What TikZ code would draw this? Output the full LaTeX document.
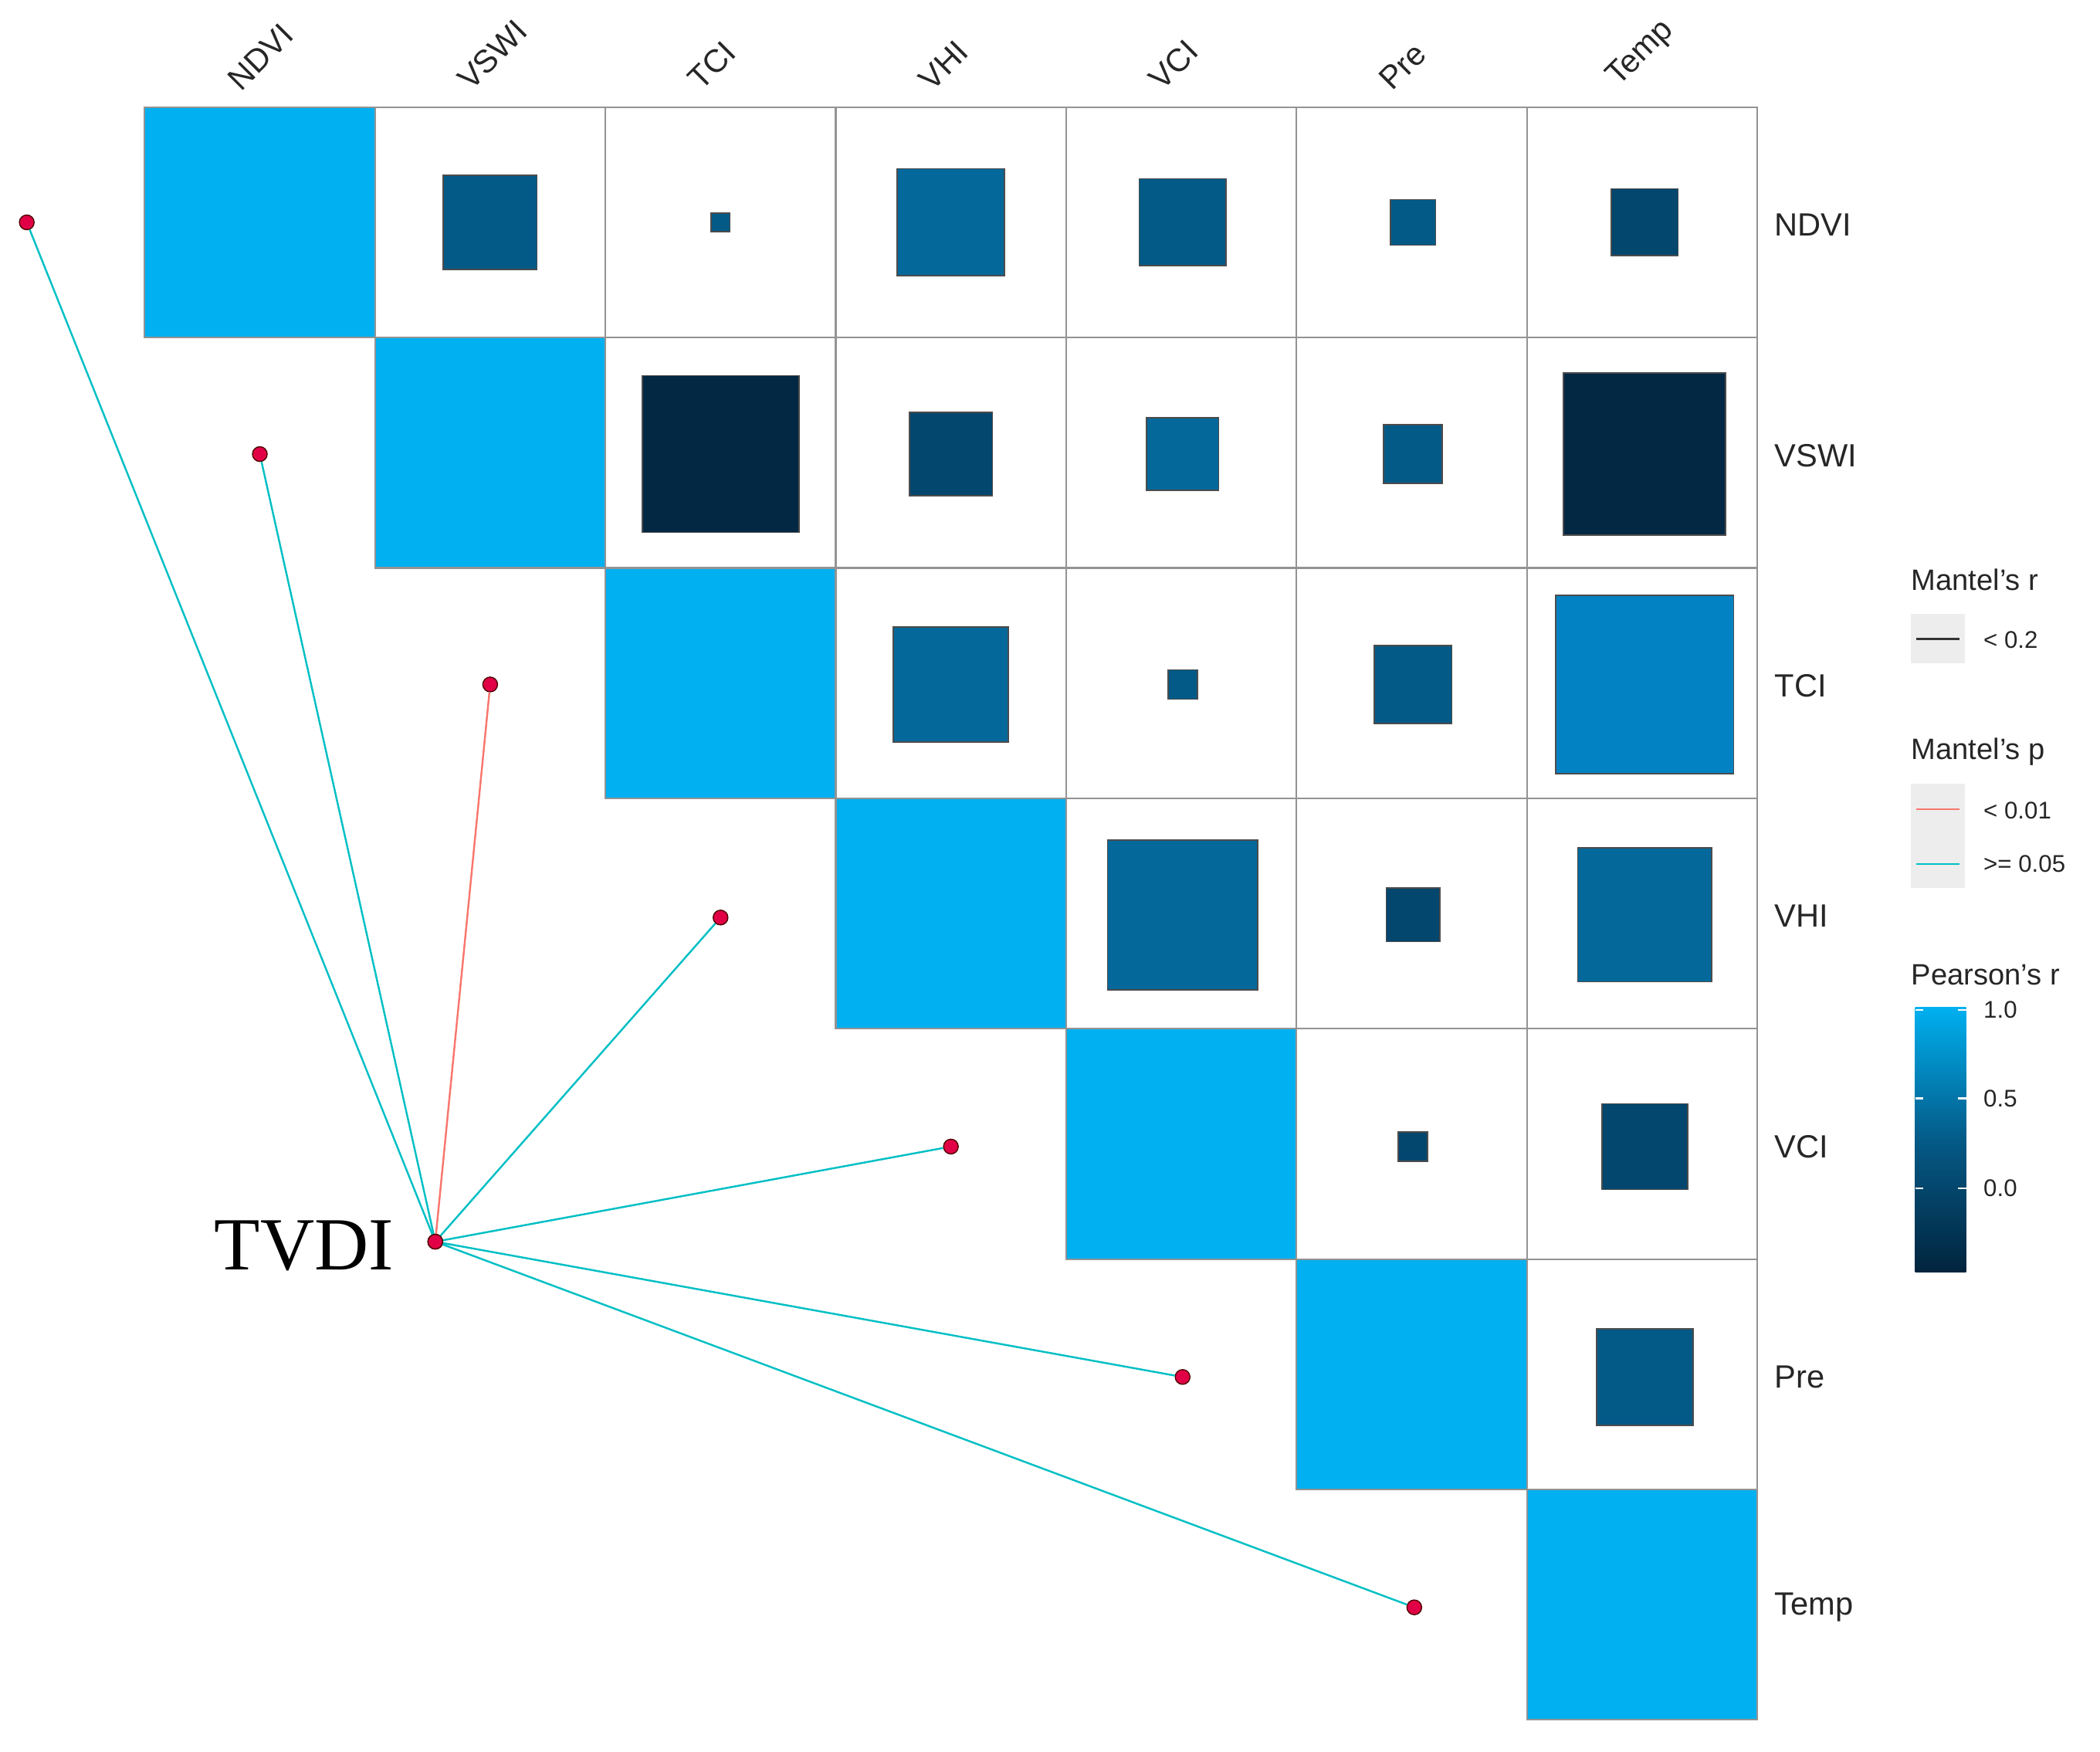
\documentclass[tikz,border=0pt]{standalone}
\usepackage{fontspec}
\setmainfont{Liberation Sans}
\newfontfamily\serifT{Liberation Serif}
\begin{document}
\begin{tikzpicture}[x=0.5pt,y=-0.5pt,
  cellb/.style={draw=gray!85,line width=0.6pt},
  sq/.style={draw=gray!60!black,line width=0.5pt},
  lab/.style={font=\fontsize{12}{14}\selectfont,text=black!85},
  leg/.style={font=\fontsize{11}{13}\selectfont,anchor=west,text=black!85},
  tick/.style={font=\fontsize{9}{11}\selectfont,anchor=west,text=black!85},
  teal/.style={draw=cTeal,line width=0.7pt},
  redl/.style={draw=cRed,line width=0.7pt},
  dot/.style={circle,fill=cDot,draw=black!70!red,line width=0.4pt,inner sep=0pt,minimum size=5.5pt}]
\definecolor{cDiag}{RGB}{0,176,240}
\definecolor{cDark}{RGB}{2,40,68}
\definecolor{cD2}{RGB}{3,70,110}
\definecolor{cMid}{RGB}{4,90,135}
\definecolor{cMed}{RGB}{5,104,155}
\definecolor{cTM}{RGB}{3,130,195}
\definecolor{cTeal}{RGB}{0,191,196}
\definecolor{cRed}{RGB}{248,118,109}
\definecolor{cDot}{RGB}{225,0,70}
\useasboundingbox (0,0) rectangle (1568,1308);
\newcommand\sqbox[4]{\fill[#4,sq] (#1-#3/2,#2-#3/2) rectangle (#1+#3/2,#2+#3/2);}
% grid upper triangle
\foreach \i in {0,...,6}{
  \foreach \j in {\i,...,6}{
    \pgfmathsetmacro\xa{108+172*\j}\pgfmathsetmacro\ya{80+172*\i}
    \draw[cellb] (\xa,\ya) rectangle ++(172,172);
  }
  \pgfmathsetmacro\xa{108+172*\i}\pgfmathsetmacro\ya{80+172*\i}
  \fill[cDiag,cellb] (\xa,\ya) rectangle ++(172,172);
}
% squares
\sqbox{366}{166}{70}{cMid}
\sqbox{538}{166}{14}{cMid}
\sqbox{710}{166}{80}{cMed}
\sqbox{883}{166}{65}{cMid}
\sqbox{1055}{166}{34}{cMid}
\sqbox{1228}{166}{50}{cD2}
\sqbox{538}{339}{117}{cDark}
\sqbox{710}{339}{62}{cD2}
\sqbox{883}{339}{54}{cMed}
\sqbox{1055}{339}{44}{cMid}
\sqbox{1228}{339}{121}{cDark}
\sqbox{710}{511}{86}{cMed}
\sqbox{883}{511}{22}{cMid}
\sqbox{1055}{511}{58}{cMid}
\sqbox{1228}{511}{133}{cTM}
\sqbox{883}{683}{112}{cMed}
\sqbox{1055}{683}{40}{cD2}
\sqbox{1228}{683}{100}{cMed}
\sqbox{1055}{856}{22}{cD2}
\sqbox{1228}{856}{64}{cD2}
\sqbox{1228}{1028}{72}{cMid}
% labels
\foreach \n [count=\k from 0] in {NDVI,VSWI,TCI,VHI,VCI,Pre,Temp}{
  \pgfmathsetmacro\xc{194+172*\k}\pgfmathsetmacro\yc{168+172*\k}
  \node[lab,rotate=45,anchor=south west,inner sep=1pt] (t\k) at (\xc-14,72) {\n};
  \node[lab,anchor=west] (r\k) at (1318,\yc) {\n};
}
% mantel
\node[font=\serifT\fontsize{28}{30}\selectfont] (tl) at (227,930) {TVDI};
\node[dot] (tv) at (325,927) {};
\node[dot] (e0) at (20,166) {};
\node[dot] (e1) at (194,339) {};
\node[dot] (e2) at (366,511) {};
\node[dot] (e3) at (538,685) {};
\node[dot] (e4) at (710,856) {};
\node[dot] (e5) at (883,1028) {};
\node[dot] (e6) at (1056,1200) {};
\foreach \k in {0,1,3,4,5,6}{\draw[teal] (tv) -- (e\k);}
\draw[redl] (tv) -- (e2);
\node[dot] at (325,927) {};
% legend
\node[leg] (lr) at (1420,433) {Mantel's r};
\fill[black!7] (1427,458) rectangle (1467,495);
\draw[black!80,line width=0.6pt] (1431,477) -- (1463,477);
\node[tick] (l1) at (1474,478) {< 0.2};
\node[leg] (lp) at (1420,561) {Mantel's p};
\fill[black!7] (1427,585) rectangle (1467,663);
\draw[redl] (1431,604) -- (1463,604);
\draw[teal] (1431,645) -- (1463,645);
\node[tick] (l2) at (1474,605) {< 0.01};
\node[tick] (l3) at (1474,645) {>= 0.05};
\node[leg] (lpr) at (1420,728) {Pearson's r};
\shade[top color=cDiag,bottom color=cDark!90!black,middle color=cMid] (1430,752) rectangle (1468,950);
\foreach \y/\t in {754/1.0,820/0.5,887/0.0}{
  \draw[white,line width=0.6pt] (1430,\y) -- (1436,\y) (1462,\y) -- (1468,\y);
  \node[tick] at (1474,\y) {\t};
}
\end{tikzpicture}
\end{document}
